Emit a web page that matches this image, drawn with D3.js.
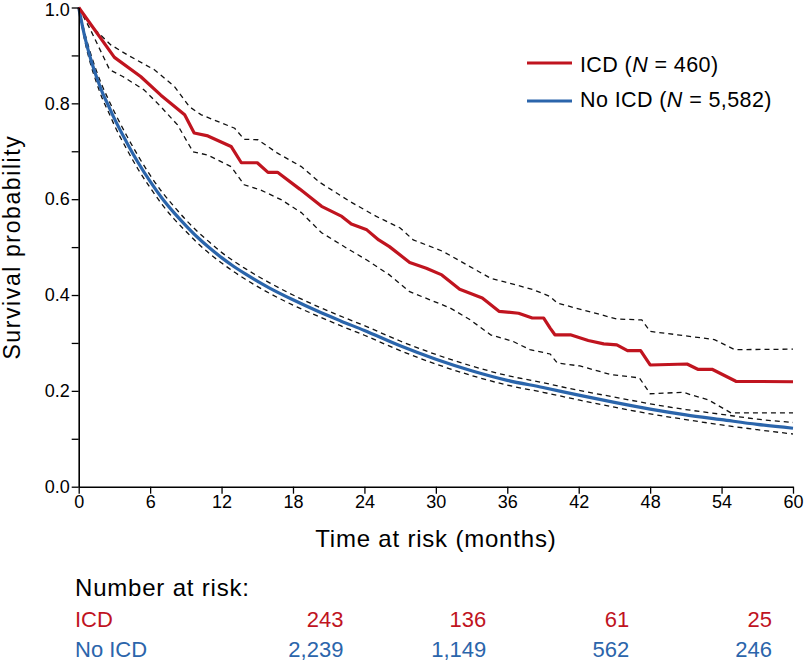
<!DOCTYPE html>
<html>
<head>
<meta charset="utf-8">
<script src="https://cdn.jsdelivr.net/npm/d3@7"></script>
<style>
  html, body { margin: 0; padding: 0; background: #fff; }
  svg { display: block; font-family: "Liberation Sans", Arial, Helvetica, sans-serif; }
</style>
</head>
<body>
<svg id="chart" width="805" height="662"></svg>
<script>
// ---------- Data ----------
// ICD group (Kaplan-Meier estimate and 95% CI)
const icdTime  = [0,3.0,5.2,6.9,8.9,9.7,10.85,12.8,13.66,15.0,15.9,16.7,18.57,20.4,22.1,22.9,24.2,25.2,26.1,27.8,29.2,30.5,32.0,33.9,34.3,35.3,36.95,38.1,39.06,39.6,40.0,41.3,42.8,44.1,45.2,46.1,47.2,48.0,51.1,52.0,53.2,55.2,60];
const icdSurv  = [1,0.896,0.856,0.817,0.776,0.738,0.732,0.710,0.676,0.676,0.656,0.656,0.621,0.585,0.564,0.548,0.536,0.515,0.501,0.468,0.456,0.442,0.412,0.394,0.386,0.366,0.362,0.352,0.352,0.331,0.317,0.317,0.305,0.298,0.296,0.284,0.284,0.254,0.256,0.245,0.245,0.220,0.219];

const icdUpTime = [0,1.0,2.7,4.1,6.36,8.04,9.3,10.3,13.1,13.9,15.06,16.7,18.7,20.25,22.8,25.0,27.0,28.1,30.6,32.6,34.6,35.7,38.2,39.6,40.2,43.55,45.2,47.3,48.0,50.3,53.4,55.1,60];
const icdUpSurv = [1,0.963,0.922,0.901,0.870,0.835,0.793,0.776,0.748,0.725,0.724,0.696,0.668,0.635,0.595,0.564,0.540,0.515,0.491,0.463,0.435,0.428,0.411,0.397,0.383,0.361,0.350,0.348,0.324,0.317,0.307,0.286,0.287];

const icdLoTime = [0,1.0,2.6,3.7,5.5,6.9,8.3,9.6,10.85,12.8,13.9,15.3,17.0,18.7,20.4,22.5,24.2,26.1,27.8,29.5,31.2,32.9,34.6,36.5,37.9,39.6,40.2,42.1,44.7,47.1,48.0,50.8,51.4,52.9,54.8,60];
const icdLoSurv = [1,0.953,0.870,0.856,0.828,0.793,0.755,0.699,0.692,0.668,0.630,0.619,0.599,0.572,0.530,0.498,0.473,0.442,0.407,0.390,0.373,0.348,0.317,0.303,0.286,0.277,0.258,0.252,0.234,0.227,0.194,0.197,0.192,0.181,0.154,0.154];

// No ICD group (estimate and 95% CI share a time grid)
const noIcdTime = [0,0.5,1,1.5,2,2.5,3,4,5,6,7,8,9,10,11,12,13,14,15,16,18,20,22,24,27,30,33,36,39,42,45,48,51,54,57,60];
const noIcdSurv = [1,0.94,0.893,0.855,0.822,0.795,0.768,0.72,0.676,0.637,0.602,0.572,0.545,0.52,0.498,0.478,0.46,0.444,0.429,0.415,0.39,0.367,0.346,0.326,0.294,0.266,0.242,0.222,0.207,0.191,0.176,0.162,0.15,0.14,0.13,0.122];
const noIcdUp   = [1,0.948,0.904,0.867,0.835,0.808,0.782,0.734,0.690,0.650,0.615,0.585,0.557,0.532,0.510,0.489,0.471,0.455,0.440,0.426,0.400,0.377,0.356,0.336,0.304,0.276,0.252,0.232,0.217,0.201,0.187,0.173,0.161,0.151,0.141,0.134];
const noIcdLo   = [1,0.932,0.882,0.843,0.809,0.782,0.754,0.706,0.662,0.624,0.589,0.559,0.533,0.508,0.486,0.467,0.449,0.433,0.418,0.404,0.379,0.357,0.336,0.316,0.284,0.256,0.232,0.212,0.197,0.181,0.166,0.152,0.140,0.129,0.119,0.110];

// Axes
const xTicks = [0,6,12,18,24,30,36,42,48,54,60];
const yTicksMinor = [0,0.1,0.2,0.3,0.4,0.5,0.6,0.7,0.8,0.9,1.0];
const yTickLabels = [0,0.2,0.4,0.6,0.8,1.0];

// Legend
const legendLabels = [
  {name: "ICD", n: "460"},
  {name: "No ICD", n: "5,582"}
];

// Number at risk
const riskGroups = ["ICD", "No ICD"];
const riskTimes = [24, 36, 48, 60];
const riskICD = ["243", "136", "61", "25"];
const riskNoICD = ["2,239", "1,149", "562", "246"];

// ---------- Drawing ----------
const RED = "#c0141f";
const BLUE = "#2b65ab";
const svg = d3.select("#chart");

const x = d3.scaleLinear().domain([0, 60]).range([78.7, 793]);
const y = d3.scaleLinear().domain([0, 1]).range([486.7, 7.5]);

function pts(ts, ss) { return ts.map((t, i) => [t, ss[i]]); }
const lineLin = d3.line().x(d => x(d[0])).y(d => y(d[1]));
const lineSmooth = d3.line().x(d => x(d[0])).y(d => y(d[1])).curve(d3.curveMonotoneX);

// Dashed CI lines
const dash = "5,4";
[[pts(icdUpTime, icdUpSurv), lineLin], [pts(icdLoTime, icdLoSurv), lineLin],
 [pts(noIcdTime, noIcdUp), lineSmooth], [pts(noIcdTime, noIcdLo), lineSmooth]].forEach(([d, gen]) => {
  svg.append("path").attr("d", gen(d)).attr("fill", "none")
    .attr("stroke", "#111").attr("stroke-width", 1.3).attr("stroke-dasharray", dash);
});

// Main curves
svg.append("path").attr("d", lineSmooth(pts(noIcdTime, noIcdSurv)))
  .attr("fill", "none").attr("stroke", BLUE).attr("stroke-width", 3.2);
svg.append("path").attr("d", lineLin(pts(icdTime, icdSurv)))
  .attr("fill", "none").attr("stroke", RED).attr("stroke-width", 3.2).attr("stroke-linejoin", "round");

// X axis
const xAxis = d3.axisBottom(x).tickValues(xTicks).tickSize(7).tickSizeOuter(0).tickPadding(2).tickFormat(d3.format("d"));
const gx = svg.append("g").attr("transform", `translate(0,${y(0)})`).call(xAxis);
gx.select(".domain").attr("stroke", "#000").attr("stroke-width", 1.6);
gx.selectAll(".tick line").attr("stroke", "#000").attr("stroke-width", 1.3);
gx.selectAll(".tick text").attr("font-size", 18).attr("fill", "#000")
  .attr("font-family", "'Liberation Sans', Arial, sans-serif");

// Y axis
const yAxis = d3.axisLeft(y).tickValues(yTicksMinor).tickSize(7).tickSizeOuter(0).tickPadding(2)
  .tickFormat(d => yTickLabels.some(v => Math.abs(v - d) < 1e-9) ? d3.format(".1f")(d) : "");
const gy = svg.append("g").attr("transform", `translate(${x(0)},0)`).call(yAxis);
gy.select(".domain").attr("stroke", "#000").attr("stroke-width", 1.6);
gy.selectAll(".tick line").attr("stroke", "#000").attr("stroke-width", 1.3);
gy.selectAll(".tick text").attr("font-size", 18).attr("fill", "#000")
  .attr("font-family", "'Liberation Sans', Arial, sans-serif");
// keep the top label fully inside the picture
gy.selectAll(".tick").filter(d => d === 1).select("text").attr("dy", "0.42em");

// Axis titles
svg.append("text").attr("x", x(30)).attr("y", 546.7).attr("text-anchor", "middle")
  .attr("font-size", 24).attr("letter-spacing", 0.8).attr("fill", "#000").text("Time at risk (months)");
svg.append("text").attr("transform", `translate(20,${(y(0) + y(1)) / 2}) rotate(-90)`)
  .attr("text-anchor", "middle").attr("font-size", 23).attr("letter-spacing", 1.6).attr("fill", "#000")
  .text("Survival probability");

// Legend
const legendColors = [RED, BLUE];
const legendY = [63, 101];
const legendBase = [71.5, 106.5];
legendLabels.forEach((d, i) => {
  svg.append("line").attr("x1", 527).attr("x2", 572).attr("y1", legendY[i]).attr("y2", legendY[i])
    .attr("stroke", legendColors[i]).attr("stroke-width", 3.2);
  const t = svg.append("text").attr("x", 580).attr("y", legendBase[i])
    .attr("font-size", 21.5).attr("letter-spacing", 0.4).attr("fill", "#000");
  t.append("tspan").text(d.name + " (");
  t.append("tspan").attr("font-style", "italic").text("N");
  t.append("tspan").text(" = " + d.n + ")");
});

// Number at risk table
svg.append("text").attr("x", 75).attr("y", 596).attr("font-size", 24).attr("letter-spacing", 0.8)
  .attr("fill", "#000").text("Number at risk:");
const riskRows = [riskICD, riskNoICD];
const riskY = [626.5, 656.5];
riskGroups.forEach((g, i) => {
  svg.append("text").attr("x", 75).attr("y", riskY[i]).attr("font-size", 22)
    .attr("fill", legendColors[i]).text(g);
  riskRows[i].forEach((v, j) => {
    svg.append("text").attr("x", x(riskTimes[j]) - 21).attr("y", riskY[i])
      .attr("text-anchor", "end").attr("font-size", 22).attr("fill", legendColors[i]).text(v);
  });
});
</script>
</body>
</html>
